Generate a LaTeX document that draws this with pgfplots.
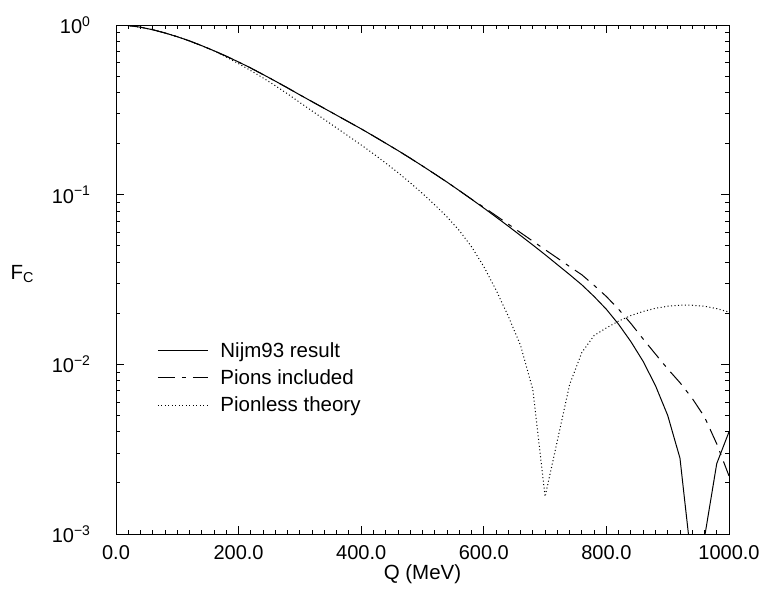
\documentclass[border=0pt]{standalone}
\usepackage{fontspec}
\setmainfont{Liberation Sans}
\usepackage{pgfplots}
\pgfplotsset{compat=1.18}
\begin{document}
\begin{tikzpicture}[x=1pt,y=1pt]
\useasboundingbox (0,0) rectangle (766,597);
\begin{axis}[
  at={(116pt,63pt)}, anchor=south west,
  width=613pt, height=509pt, scale only axis,
  ymode=log, xmin=0, xmax=1000, ymin=1e-3, ymax=1,
  xtick={0,200,400,600,800,1000},
  xticklabels={0.0,200.0,400.0,600.0,800.0,1000.0},
  minor x tick num=9,
  ytick={1e-3,1e-2,1e-1,1},
  yticklabels={10\textsuperscript{−3},10\textsuperscript{−2},10\textsuperscript{−1},10\textsuperscript{0}},
  tick align=inside,
  major tick length=8pt, minor tick length=4pt,
  every tick/.style={black, line width=0.9pt},
  axis line style={line width=0.9pt},
  tick label style={font=\fontsize{20}{24}\selectfont},
  xticklabel style={yshift=-8pt},
  yticklabel style={xshift=-22pt},
  xlabel={Q (MeV)},
  ylabel={F\textsubscript{C}},
  every axis y label/.style={at={(axis description cs:-0.153,0.51)}, anchor=center, font=\fontsize{20.5}{24}\selectfont},
  every axis x label/.style={at={(axis description cs:0.5,0)}, anchor=north, yshift=-27pt, font=\fontsize{20.5}{24}\selectfont},
  legend style={draw=none, fill=none, at={(axis description cs:0.064,0.385)}, anchor=north west,
    font=\fontsize{20.5}{24}\selectfont, row sep=7pt, inner sep=2pt,
    /tikz/every odd column/.append style={column sep=10pt}},
  legend cell align=left,
  legend image code/.code={\draw[#1] (0pt,0pt) -- (50pt,0pt);},
]
\addplot[black, line width=1pt] coordinates {
(0,1.0) (20,0.9931) (40,0.9705) (60,0.9376) (80,0.8974) (100,0.8531) (120,0.8054) (140,0.7551)
(160,0.7047) (180,0.6546) (200,0.6053) (220,0.5572) (240,0.5105) (260,0.4667) (280,0.4256)
(300,0.3873) (320,0.3532) (340,0.3221) (360,0.2938) (380,0.2679) (400,0.2443) (420,0.2218)
(440,0.2009) (460,0.1820) (480,0.1641) (500,0.1476) (520,0.1324) (540,0.1186) (560,0.1057)
(580,0.0940) (600,0.0834) (620,0.0738) (640,0.0652) (660,0.0574) (680,0.0505) (700,0.0443)
(720,0.0387) (740,0.0338) (760,0.0294) (780,0.0251) (800,0.0211) (820,0.0172) (840,0.0136)
(860,0.0104) (880,0.0075) (900,0.0050) (920,0.0028) (940,0.00063) (960,0.00095)
(980,0.0026) (1000,0.0040)
};
\addlegendentry{Nijm93 result}
\addplot[black, line width=1pt, dash pattern=on 17pt off 7pt on 4pt off 7pt] coordinates {
(0,1.0) (20,0.9931) (40,0.9705) (60,0.9376) (80,0.8974) (100,0.8531) (120,0.8054) (140,0.7551)
(160,0.7047) (180,0.6546) (200,0.6053) (220,0.5572) (240,0.5105) (260,0.4667) (280,0.4256)
(300,0.3873) (320,0.3532) (340,0.3221) (360,0.2938) (380,0.2679) (400,0.2443) (420,0.2218)
(440,0.2009) (460,0.1820) (480,0.1641) (500,0.1476) (520,0.1324) (540,0.1186) (560,0.1057)
(580,0.0941) (600,0.0843) (620,0.0752) (640,0.0670) (660,0.0597) (680,0.0532) (700,0.0474)
(720,0.0423) (740,0.0377) (760,0.0337) (780,0.0292) (800,0.0251) (820,0.0211) (840,0.0174)
(860,0.0141) (880,0.0115) (900,0.0094) (920,0.0078) (940,0.0063) (960,0.0049)
(980,0.0034) (1000,0.0022)
};
\addlegendentry{Pions included}
\addplot[black, line width=1pt, dash pattern=on 1pt off 2.5pt] coordinates {
(0,1.0) (20,0.9931) (40,0.9705) (60,0.9376) (80,0.8974) (100,0.8531) (120,0.8054) (140,0.7545)
(160,0.7030) (180,0.6470) (200,0.5916) (220,0.5383) (240,0.4875) (260,0.4385) (280,0.3926)
(300,0.3491) (320,0.3112) (340,0.2773) (360,0.2472) (380,0.2203) (400,0.1963) (420,0.1742)
(440,0.1535) (460,0.1349) (480,0.1175) (500,0.1016) (520,0.0871) (540,0.0740) (560,0.0615)
(580,0.0493) (600,0.0377) (620,0.0274) (640,0.0192) (660,0.0129) (680,0.0071) (700,0.00166)
(720,0.00355) (740,0.0076) (760,0.01175) (780,0.0148) (800,0.0164) (820,0.0180) (840,0.0194)
(860,0.0205) (880,0.0214) (900,0.0220) (920,0.0223) (940,0.0223) (960,0.0220)
(980,0.0213) (1000,0.0203)
};
\addlegendentry{Pionless theory}
\end{axis}
\end{tikzpicture}
\end{document}
